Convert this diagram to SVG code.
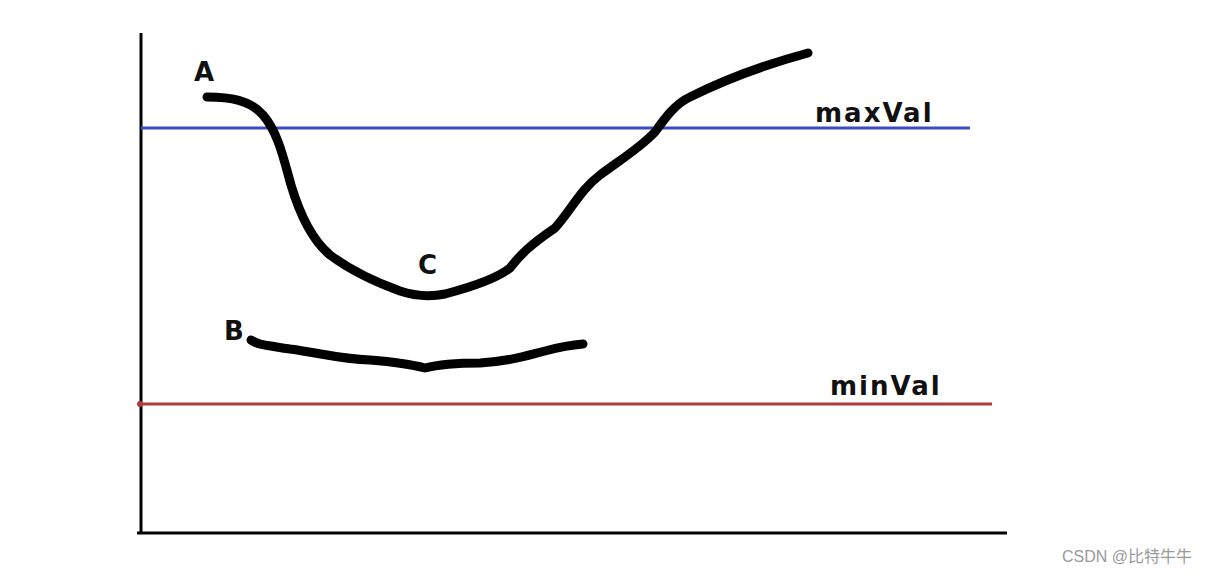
<svg xmlns="http://www.w3.org/2000/svg" width="1214" height="576" viewBox="0 0 1214 576">
<style>
.curve{fill:none;stroke:#000;stroke-width:9;stroke-linecap:round;stroke-linejoin:round}
.axis{stroke:#000;stroke-width:3;fill:none}
.lbl{font-family:"DejaVu Sans","Liberation Sans",sans-serif;font-size:26px;fill:#111;font-weight:bold}
.val{font-family:"DejaVu Sans","Liberation Sans",sans-serif;font-size:26px;fill:#111;font-weight:bold;letter-spacing:2px}
</style>
<rect width="1214" height="576" fill="#fff"/>
<g id="axes">
<line class="axis" x1="141" y1="33" x2="141" y2="534"/>
<line class="axis" x1="137" y1="533" x2="1007" y2="533"/>
</g>
<g id="thresholds">
<line x1="141" y1="128" x2="970" y2="128" stroke="#3b4cc0" stroke-width="3"/>
<line x1="139" y1="404" x2="992" y2="404" stroke="#b33a3a" stroke-width="3"/>
<circle cx="140" cy="404" r="3" fill="#b33a3a"/>
</g>
<g id="curveA">
<path class="curve" d="M207,97 C230,97 250,100 263,115 C278,132 284,160 291,185 C300,215 312,240 330,255 C350,270 375,282 400,291 C415,296 430,297 445,294 C468,288 495,280 510,268 C520,255 530,245 555,228 C570,212 580,190 600,175 C620,160 640,148 655,132 C665,118 675,104 690,97 C720,82 760,66 808,53"/>
</g>
<g id="curveB">
<path class="curve" d="M251,340 C258,345 265,345 290,349 C320,353 340,359 370,360 C395,362 410,364 425,368 C440,364 455,363 480,363 C510,361 525,356 545,351 C560,347 570,345 583,344"/>
</g>
<g id="labels">
<text class="lbl" x="194" y="81">A</text>
<text class="lbl" x="418" y="274">C</text>
<text class="lbl" x="224" y="340">B</text>
<text class="val" x="815" y="122">maxVal</text>
<text class="val" x="830" y="395">minVal</text>
</g>
<text x="1062" y="562" font-family="'Liberation Sans','Noto Sans CJK SC',sans-serif" font-size="16" fill="#999">CSDN @比特牛牛</text>
</svg>
